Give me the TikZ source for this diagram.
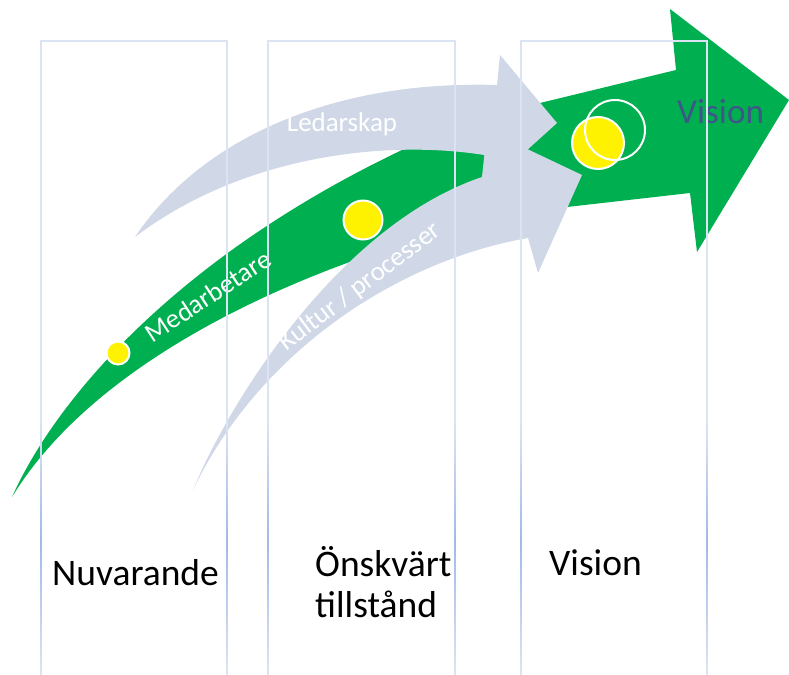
\documentclass[tikz,border=0pt]{standalone}
\usepackage{fontspec}
\setmainfont{Carlito}
\definecolor{pilgron}{RGB}{0,176,80}
\definecolor{pilgra}{RGB}{208,216,232}
\definecolor{kolumn}{RGB}{220,228,243}
\definecolor{kolumnbla}{RGB}{160,186,230}
\definecolor{visionbla}{RGB}{62,86,136}

\begin{document}
\begin{tikzpicture}[x=0.03cm, y=-0.03cm]
\tikzset{prick/.style={draw=white, line width=1.7pt, fill=yellow, circle, inner sep=0pt}}
\tikzset{piltext/.style={text=white, inner sep=0pt, font=\fontsize{23}{27}\selectfont}}
\tikzset{rubrik/.style={inner sep=0pt, align=left, font=\fontsize{32}{35}\selectfont}}
\tikzset{kolumnlinje/.style={draw=kolumn, line width=1.7pt}}
\useasboundingbox (0,0) rectangle (789,674);
% medarbetare
\fill[pilgron] (12,497) .. controls (60,390) and (200,230) .. (470,120) -- (676,70) -- (670,9) -- (789,100) -- (697,252) -- (690,193) -- (567,207) .. controls (420,225) and (120,320) .. cycle;
% ledarskap, kultur
\fill[pilgra] (135,237) .. controls (200,140) and (330,80) .. (497,85) -- (500,55) -- (557,123) -- (505,170) -- (490,156) .. controls (400,140) and (250,150) .. cycle;
\fill[pilgra] (193,490) .. controls (230,400) and (340,225) .. (482,177) -- (487,130) -- (582,175) -- (538,273) -- (528,238) .. controls (400,260) and (260,350) .. cycle;
\node[piltext] (ledarskap) at (342,124) {Ledarskap};
\node[piltext, rotate=33] (medarbetare) at (208,296) {Medarbetare};
\node[piltext, rotate=37] (kultur) at (360,287) {Kultur / processer};
\node[inner sep=0pt, anchor=base west, text=visionbla, font=\fontsize{30}{35}\selectfont] (visionpil) at (677,123) {Vision};
\node[prick, minimum size=0.69cm] (p1) at (118,353) {};
\node[prick, minimum size=1.17cm] (p2) at (363,220) {};
\node[prick, minimum size=1.56cm] (p3) at (598,143) {};
\node[draw=white, line width=1.7pt, circle, minimum size=1.8cm] (ring) at (615,130) {};
% kolumner
\foreach \a/\b in {41/227, 268/455, 521/707} {
  \draw[kolumnlinje] (\a,674) |- (\b,41) -- (\b,674);
  \shade[top color=kolumn, bottom color=kolumnbla] (\a-0.9,420) rectangle (\a+0.9,540);
  \shade[top color=kolumnbla, bottom color=kolumn] (\a-0.9,540) rectangle (\a+0.9,674);
  \shade[top color=kolumn, bottom color=kolumnbla] (\b-0.9,420) rectangle (\b+0.9,540);
  \shade[top color=kolumnbla, bottom color=kolumn] (\b-0.9,540) rectangle (\b+0.9,674);
}
\node[rubrik, anchor=base west] (nuvarande) at (52,585) {Nuvarande};
\node[rubrik, anchor=base west] (onskvart) at (315,617) {Önskvärt\\tillstånd};
\node[rubrik, anchor=base west] (vision) at (549,575) {Vision};
\end{tikzpicture}
\end{document}
